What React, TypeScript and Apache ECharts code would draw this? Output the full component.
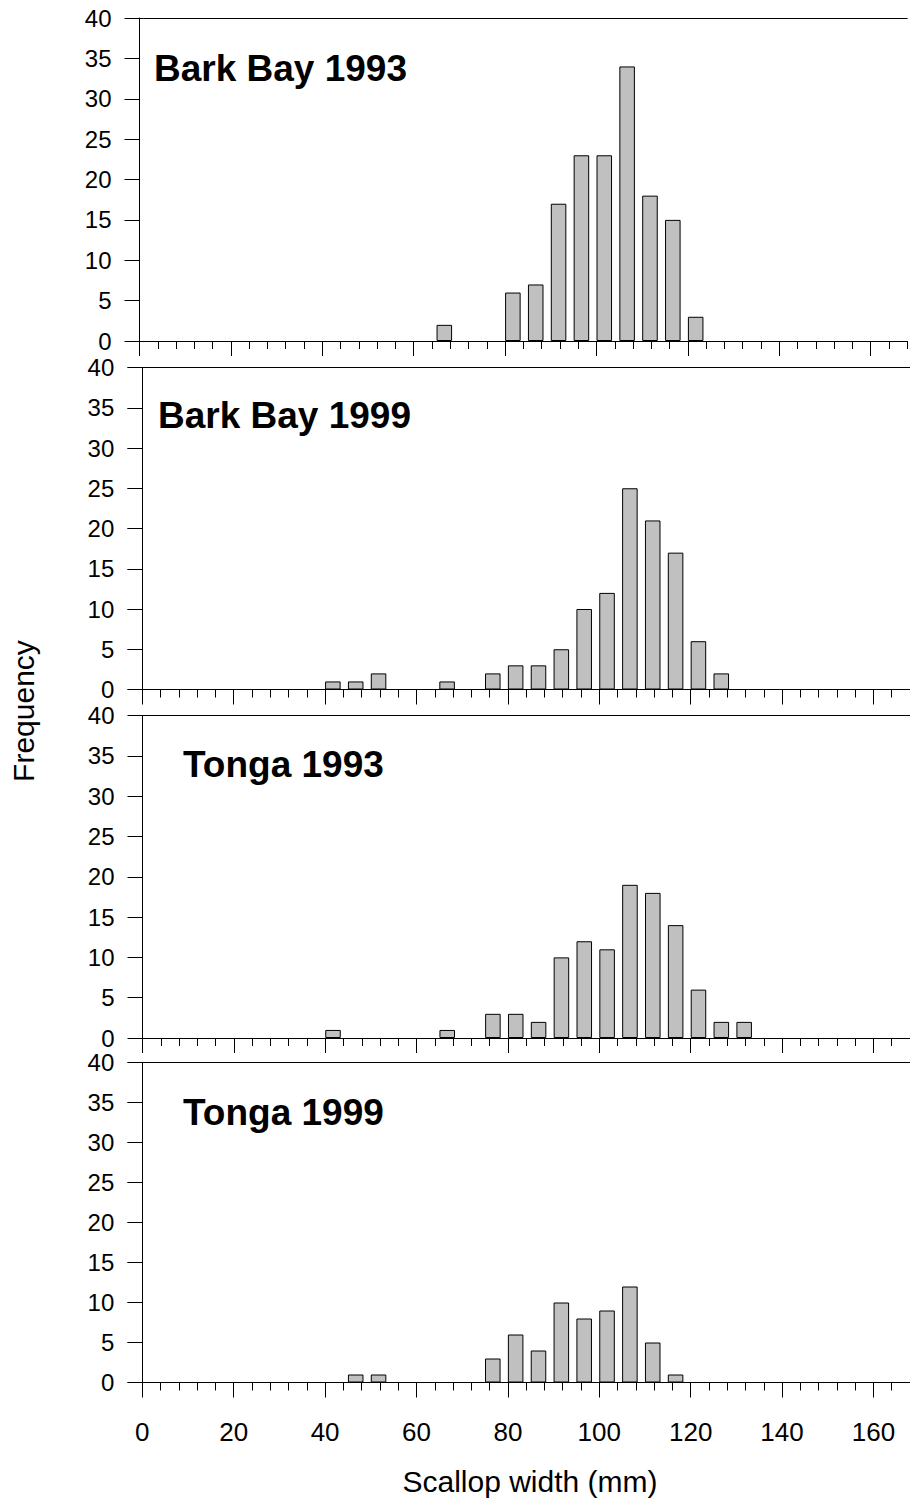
import React, { useEffect, useRef } from "react";
import * as echarts from "echarts";

// ---- Data (bin lower edge in mm, frequency) ----
const panelTitles = ["Bark Bay 1993", "Bark Bay 1999", "Tonga 1993", "Tonga 1999"];

const barkBay1993Bins = [65, 80, 85, 90, 95, 100, 105, 110, 115, 120];
const barkBay1993Freq = [2, 6, 7, 17, 23, 23, 34, 18, 15, 3];

const barkBay1999Bins = [40, 45, 50, 65, 75, 80, 85, 90, 95, 100, 105, 110, 115, 120, 125];
const barkBay1999Freq = [1, 1, 2, 1, 2, 3, 3, 5, 10, 12, 25, 21, 17, 6, 2];

const tonga1993Bins = [40, 65, 75, 80, 85, 90, 95, 100, 105, 110, 115, 120, 125, 130];
const tonga1993Freq = [1, 1, 3, 3, 2, 10, 12, 11, 19, 18, 14, 6, 2, 2];

const tonga1999Bins = [45, 50, 75, 80, 85, 90, 95, 100, 105, 110, 115];
const tonga1999Freq = [1, 1, 3, 6, 4, 10, 8, 9, 12, 5, 1];

const xMajorTicks = [0, 20, 40, 60, 80, 100, 120, 140, 160];
const yTicks = [0, 5, 10, 15, 20, 25, 30, 35, 40];

const xTitle = "Scallop width (mm)";
const yTitle = "Frequency";

const panelBins = [barkBay1993Bins, barkBay1999Bins, tonga1993Bins, tonga1999Bins];
const panelFreq = [barkBay1993Freq, barkBay1999Freq, tonga1993Freq, tonga1999Freq];

// ---- Layout / style ----
const FONT = "'Liberation Sans', Arial, sans-serif";
const X_MAX = 168;
const BAR_UNITS = 3.4; // bar occupies [binStart, binStart + 3.4]
const gridLefts = [139.5, 142.3, 142.5, 142.3];
const gridTops = [18, 367.5, 715.5, 1062.5];
const gridHeights = [323, 322, 322.5, 320];
const PX_PER_UNIT = 4.57;
const titleX = [154, 158, 183, 183];
const titleY = [68, 415, 764, 1112];

export default function App() {
  const ref = useRef<HTMLDivElement>(null);

  useEffect(() => {
    if (!ref.current) return;
    const chart = echarts.init(ref.current, undefined, { renderer: "svg" });

    const grids: any[] = [];
    const xAxes: any[] = [];
    const yAxes: any[] = [];
    const series: any[] = [];

    for (let i = 0; i < 4; i++) {
      grids.push({
        left: gridLefts[i],
        top: gridTops[i],
        width: X_MAX * PX_PER_UNIT,
        height: gridHeights[i],
        containLabel: false,
      });
      const isLast = i === 3;
      // main axis: major ticks + labels
      xAxes.push({
        gridIndex: i,
        type: "value",
        min: 0,
        max: X_MAX,
        position: "bottom",
        axisLine: { show: true, onZero: false, lineStyle: { color: "#000", width: 1 } },
        axisTick: { show: true, length: 15, customValues: xMajorTicks, lineStyle: { color: "#000", width: 1 } },
        axisLabel: {
          show: isLast,
          customValues: xMajorTicks,
          fontSize: 26,
          fontFamily: FONT,
          color: "#000",
          margin: 36,
        },
        splitLine: { show: false },
      });
      // minor ticks
      xAxes.push({
        gridIndex: i,
        type: "value",
        min: 0,
        max: X_MAX,
        interval: 4,
        position: "bottom",
        axisLine: { show: false, onZero: false },
        axisTick: { show: true, length: 8, lineStyle: { color: "#000", width: 1 } },
        axisLabel: { show: false },
        splitLine: { show: false },
      });
      // top line
      xAxes.push({
        gridIndex: i,
        type: "value",
        min: 0,
        max: X_MAX,
        position: "top",
        axisLine: { show: true, onZero: false, lineStyle: { color: "#000", width: 1 } },
        axisTick: { show: false },
        axisLabel: { show: false },
        splitLine: { show: false },
      });
      yAxes.push({
        gridIndex: i,
        type: "value",
        min: 0,
        max: 40,
        interval: 5,
        axisLine: { show: true, onZero: false, lineStyle: { color: "#000", width: 1 } },
        axisTick: { show: true, length: 15, lineStyle: { color: "#000", width: 1 } },
        axisLabel: {
          fontSize: 24,
          fontFamily: FONT,
          color: "#000",
          margin: 28,
          customValues: yTicks,
        },
        splitLine: { show: false },
      });
      series.push({
        type: "bar",
        xAxisIndex: i * 3,
        yAxisIndex: i,
        barWidth: BAR_UNITS * PX_PER_UNIT,
        itemStyle: { color: "#c0c0c0", borderColor: "#000", borderWidth: 1 },
        data: panelBins[i].map((b, k) => [b + BAR_UNITS / 2, panelFreq[i][k]]),
      });
    }

    const graphics: any[] = panelTitles.map((t, i) => ({
      type: "text",
      x: titleX[i],
      y: titleY[i],
      style: {
        text: t,
        font: `bold 37px ${FONT}`,
        fill: "#000",
        textAlign: "left",
        textVerticalAlign: "middle",
      },
    }));
    graphics.push({
      type: "text",
      x: 530,
      y: 1481,
      style: {
        text: xTitle,
        font: `30px ${FONT}`,
        fill: "#000",
        textAlign: "center",
        textVerticalAlign: "middle",
      },
    });
    graphics.push({
      type: "text",
      x: 23,
      y: 711,
      rotation: Math.PI / 2,
      style: {
        text: yTitle,
        font: `30px ${FONT}`,
        fill: "#000",
        textAlign: "center",
        textVerticalAlign: "middle",
      },
    });

    chart.setOption({
      animation: false,
      backgroundColor: "#fff",
      grid: grids,
      xAxis: xAxes,
      yAxis: yAxes,
      series,
      graphic: graphics,
    });

    return () => chart.dispose();
  }, []);

  return (
    <div
      ref={ref}
      style={{ position: "absolute", left: 0, top: 0, width: 910, height: 1499 }}
    />
  );
}
